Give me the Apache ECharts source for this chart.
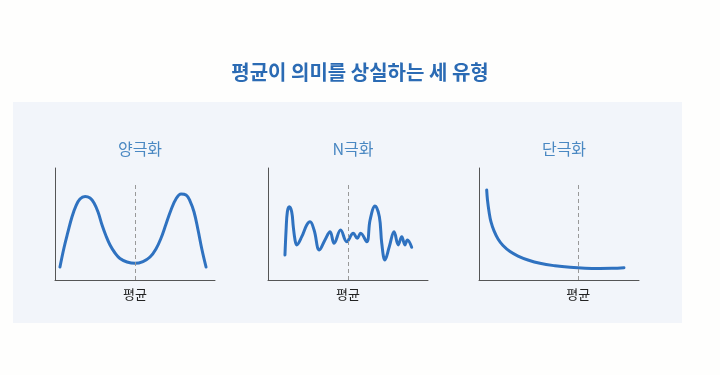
<!DOCTYPE html>
<html>
<head>
<meta charset="utf-8">
<script src="https://cdn.jsdelivr.net/npm/echarts@6/dist/echarts.min.js"></script>
<style>
html,body{margin:0;padding:0;background:#fefefd;}
#chart{width:720px;height:375px;}
</style>
</head>
<body>
<div id="chart"></div>
<script>
var mainTitle = '평균이 의미를 상실하는 세 유형';
var panelTitles = ['양극화', 'N극화', '단극화'];
var meanLabel = '평균';
var meanX = [50, 50, 62];
// [x, y] points per panel (x, y in 0..100 domain)
var bimodal = [[3.1,11.6],[5.6,28.6],[8.1,42.9],[10.6,56.3],[13.1,66.1],[15.6,72.3],[18.8,74.6],[21.9,73.2],[24.4,68.8],[26.9,60.7],[29.4,49.1],[31.9,39.3],[34.4,31.3],[37.5,24.1],[40.6,19.2],[45,16.1],[50,14.9],[55,16.5],[59.4,20.5],[63.1,27.7],[66.3,37.5],[69.4,50],[72.5,62.5],[75.6,72.3],[78.8,76.8],[81.9,75.9],[84.4,70.5],[86.9,60.7],[89.4,44.6],[91.9,26.8],[94.4,11.6]];
var multimodal = [[10.6,22.3],[11.3,44.6],[12.1,61],[13.3,65.4],[14.8,61],[15.8,47.6],[16.9,35.7],[17.9,31.3],[21.1,38.7],[24.2,49.1],[26.3,52],[28.8,44.6],[32.1,26.8],[35.6,35.7],[38.8,43.1],[41.3,32.8],[45.4,44.6],[49.2,34.2],[53.3,41.7],[55.8,37.2],[57.9,41.7],[61.7,34.2],[63.8,53.6],[66.9,66.1],[69.6,56.5],[71.1,32.8],[73.1,17.9],[75.8,29.7],[78.8,43.1],[81.4,31.3],[83.6,38.7],[85.6,31.3],[87.1,35.7],[89.8,29.2]];
var unimodal = [[4.8,80.4],[5.3,71.4],[6.3,60.7],[7.5,51.8],[9.4,43.8],[11.9,36.6],[15,30.8],[19.4,25.4],[24.4,21.4],[30.6,17.9],[38.1,14.9],[47.5,12.7],[56.9,11.3],[66.3,10.5],[75.6,10.3],[83.1,10.4],[90.6,11]];
var meanLineTop = 85;

var seriesData = [bimodal, multimodal, unimodal];
var gridLefts = [55, 268, 479];
var chart = echarts.init(document.getElementById('chart'));
var font = '"Noto Sans CJK KR", "Noto Sans", sans-serif';
var lineColor = '#2f72c0';
var axisColor = '#555';

var grids = [], xAxes = [], yAxes = [], series = [], titles = [];
titles.push({text: mainTitle, left: 'center', top: 57, textStyle: {fontFamily: font, fontSize: 20, fontWeight: 'bold', color: '#2b6bb4'}});
for (var i = 0; i < 3; i++) {
  grids.push({left: gridLefts[i], top: 168, width: 160, height: 112});
  xAxes.push({type: 'value', gridIndex: i, min: 0, max: 100, axisLine: {show: true, lineStyle: {color: axisColor, width: 1}}, axisTick: {show: false}, axisLabel: {show: false}, splitLine: {show: false}});
  yAxes.push({type: 'value', gridIndex: i, min: 0, max: 100, axisLine: {show: true, lineStyle: {color: axisColor, width: 1}}, axisTick: {show: false}, axisLabel: {show: false}, splitLine: {show: false}});
  titles.push({text: panelTitles[i], left: gridLefts[i] + 80, top: 136, textAlign: 'center', textStyle: {fontFamily: font, fontSize: 16, fontWeight: 'normal', color: '#4a88c2'}});
  series.push({
    type: 'line', xAxisIndex: i, yAxisIndex: i, data: seriesData[i], smooth: 0.4, showSymbol: false,
    lineStyle: {color: lineColor, width: 3, cap: 'round', join: 'round'}, silent: true, animation: false,
    markLine: {
      silent: true, symbol: 'none',
      lineStyle: {color: '#999', type: [4, 3], width: 1},
      label: {show: true, position: 'start', formatter: meanLabel, distance: 8, fontFamily: font, fontSize: 13, color: '#222'},
      data: [[{coord: [meanX[i], 0]}, {coord: [meanX[i], meanLineTop]}]]
    }
  });
}

chart.setOption({
  animation: false,
  backgroundColor: '#fefefd',
  graphic: [{type: 'rect', shape: {x: 13, y: 102, width: 669, height: 221}, style: {fill: '#f2f5fa'}, z: -10}],
  title: titles,
  grid: grids,
  xAxis: xAxes,
  yAxis: yAxes,
  series: series
});
</script>
</body>
</html>
